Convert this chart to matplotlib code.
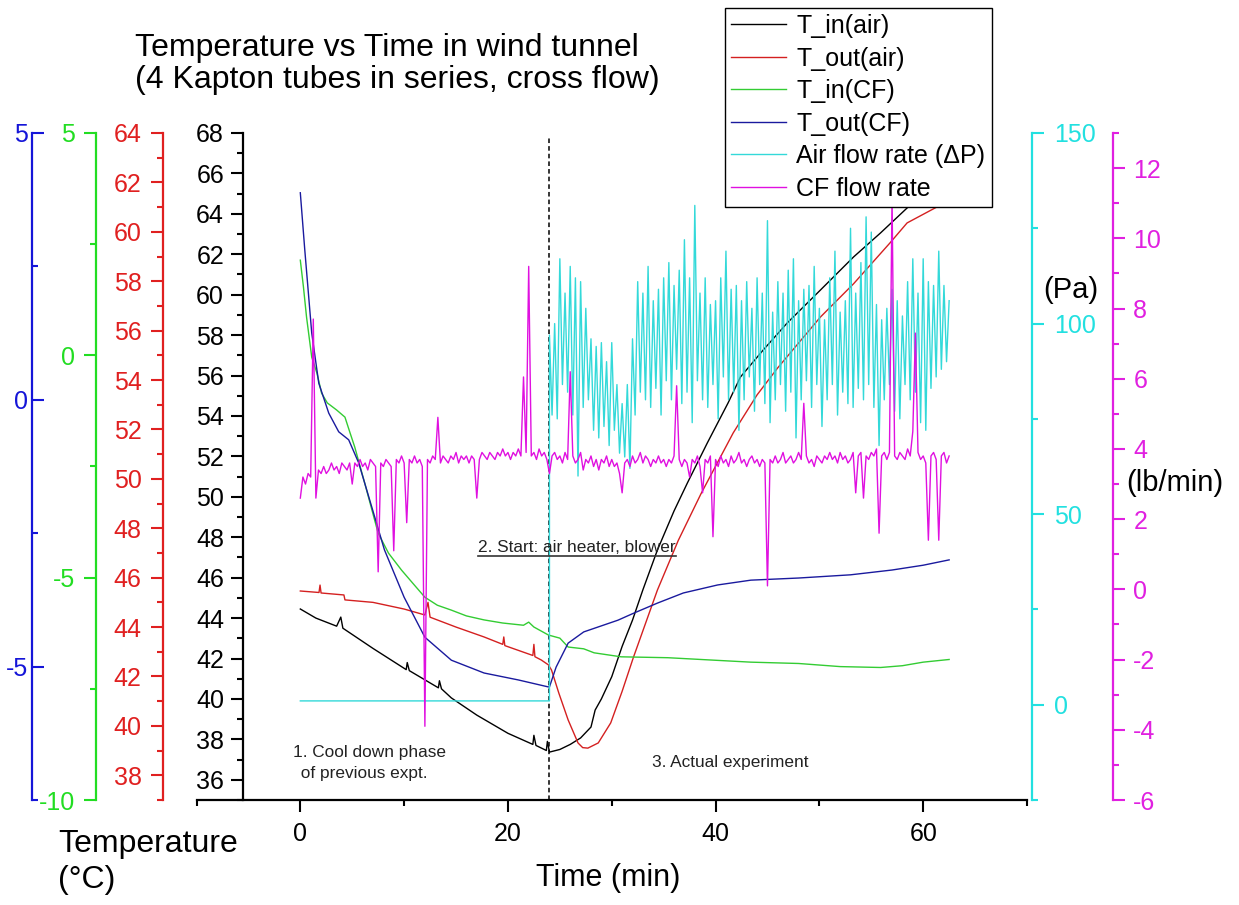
import numpy as np
import matplotlib
matplotlib.use("Agg")
import matplotlib.pyplot as plt
from matplotlib.lines import Line2D
from matplotlib.ticker import MultipleLocator

plt.rcParams['font.family'] = ['Liberation Sans', 'DejaVu Sans']
plt.rcParams['axes.unicode_minus'] = False

# ---------------- data (time in minutes) ----------------
# Air inlet temperature (deg C)
t_air_in = [0, 1.5, 3.5, 3.9, 4.1, 7, 10.2, 10.3, 10.5, 13.3, 13.4, 13.6, 14.55,
            17, 20, 22.4, 22.5, 22.7, 23.7, 23.8, 24, 25, 26, 27, 28, 28.4, 29,
            30, 31, 32, 33, 34.4, 36, 37.3, 39.2, 41.2, 42.4, 44.6, 46.9, 50.1,
            53.3, 55.9, 58.45, 60.5, 62.5]
T_air_in = [44.45, 44.0, 43.6, 44.05, 43.5, 42.5, 41.45, 41.8, 41.4, 40.55, 40.9,
            40.5, 40.05, 39.2, 38.3, 37.75, 38.2, 37.7, 37.45, 37.9, 37.37, 37.5,
            37.75, 38.07, 38.61, 39.45, 40.0, 41.1, 42.6, 43.9, 45.4, 47.37, 49.3,
            50.7, 52.66, 54.64, 55.93, 57.27, 58.6, 60.23, 61.87, 63.06, 64.29,
            65.3, 66.2]

# Air outlet temperature (deg C)
t_air_out = [0, 1.8, 1.9, 2.0, 4.2, 4.3, 7, 10, 12, 12.3, 12.5, 15, 17.7, 19.5,
             19.6, 19.7, 22.4, 22.5, 22.6, 23.2, 23.9, 24.2, 24.9, 25.8, 26.75,
             27.2, 27.7, 28.7, 29.9, 31, 32.1, 34.4, 36.4, 38.6, 41.7, 44, 46,
             50.1, 53.3, 56.8, 58.45, 61.3, 62.5]
T_air_out = [45.46, 45.4, 45.7, 45.38, 45.3, 45.1, 45.0, 44.73, 44.49, 45.0, 44.4,
             44.0, 43.6, 43.3, 43.6, 43.25, 42.85, 43.3, 42.8, 42.67, 42.47, 42.26,
             41.33, 40.24, 39.31, 39.12, 39.1, 39.31, 40.12, 41.4, 42.79, 45.5,
             47.5, 49.4, 51.86, 53.4, 54.5, 56.55, 57.9, 59.55, 60.36, 61.0, 61.5]

# Coolant (CF) inlet temperature (deg C)
t_cf_in = [0, 0.3, 0.6, 1.1, 1.6, 2.05, 2.6, 3.5, 4.3, 4.8, 5.24, 6.2, 7.5, 8.5,
           9.75, 11, 12, 13.2, 14.55, 16, 17.7, 19.5, 21.5, 22.0, 22.5, 23.9, 25,
           25.8, 27.3, 28.3, 30.9, 35.4, 43.4, 48, 52, 55.9, 58, 60, 62.5]
T_cf_in = [2.14, 1.54, 0.86, -0.04, -0.4, -0.85, -1.07, -1.23, -1.39, -1.75, -2.06,
           -2.87, -4.0, -4.45, -4.83, -5.17, -5.44, -5.62, -5.73, -5.86, -5.95,
           -6.02, -6.07, -6.0, -6.11, -6.29, -6.36, -6.56, -6.6, -6.69, -6.78,
           -6.8, -6.9, -6.93, -7.0, -7.02, -6.98, -6.9, -6.84]

# Coolant (CF) outlet temperature (deg C)
t_cf_out = [0, 0.43, 1.1, 1.78, 2.74, 3.7, 4.66, 5.62, 6.2, 8.1, 10, 12, 14.55,
            17.7, 21, 23.87, 24.0, 24.64, 25.8, 27.3, 30.6, 32.1, 34.4, 36.9, 40.2,
            43.4, 48, 53, 57, 60, 62.5]
T_cf_out = [3.88, 2.81, 1.25, 0.31, -0.25, -0.6, -0.75, -1.18, -1.56, -2.81, -3.7,
            -4.45, -4.88, -5.12, -5.25, -5.38, -5.38, -5.01, -4.56, -4.35, -4.13,
            -4.0, -3.81, -3.62, -3.47, -3.38, -3.34, -3.28, -3.19, -3.1, -3.0]

# Air flow rate, pressure drop (Pa): blower off until 24 min, then sampled every 0.25 min
air_dp_off_t = [0, 24]
air_dp_off = [1, 1]
air_dp_on_t0 = 24.0
air_dp_step = 0.25
air_dp_on = [
    97, 76, 100, 75, 117, 84, 108, 82, 115, 76, 112, 60, 111, 78, 104, 80, 96, 72, 94, 70,
    95, 73, 90, 68, 95, 72, 84, 66, 79, 65, 84, 62, 96, 76, 111, 82, 108, 80, 115, 78,
    106, 83, 109, 76, 112, 85, 116, 80, 110, 88, 114, 79, 122, 82, 112, 74, 131, 85, 108, 80,
    112, 78, 105, 84, 106, 75, 112, 86, 119, 80, 109, 82, 110, 72, 106, 80, 111, 86, 104, 77,
    112, 84, 108, 79, 127, 74, 103, 80, 111, 84, 108, 77, 114, 82, 117, 70, 106, 80, 109, 85,
    110, 78, 115, 84, 104, 73, 101, 80, 112, 84, 119, 76, 103, 82, 106, 79, 125, 78, 108, 83,
    116, 80, 128, 84, 124, 78, 105, 68, 101, 80, 104, 84, 109, 77, 106, 75, 102, 84, 111, 80,
    117, 82, 108, 74, 117, 72, 111, 83, 110, 86, 119, 88, 110, 90, 106]

# CF mass flow rate (lb/min), sampled every 0.25 min from 0
cf_flow_step = 0.25
cf_flow = [
    2.6, 3.2, 3.0, 3.3, 3.2, 7.7, 2.6, 3.4, 3.3, 3.5, 3.3, 3.4, 3.6, 3.4, 3.5, 3.3, 3.6, 3.5, 3.4, 3.6,
    3.0, 3.6, 3.5, 3.7, 3.5, 3.6, 3.4, 3.7, 3.6, 3.5, 0.5, 3.6, 3.5, 3.7, 3.6, 3.5, 1.1, 3.7, 3.6, 3.8,
    3.6, 1.9, 3.7, 3.6, 3.8, 3.6, 3.7, 3.5, -3.9, 3.7, 3.6, 3.8, 3.7, 4.9, 3.6, 3.8, 3.7, 3.6, 3.8, 3.7,
    3.9, 3.6, 3.8, 3.7, 3.8, 3.6, 3.8, 3.7, 2.6, 3.7, 3.9, 3.8, 3.7, 3.9, 3.8, 3.7, 3.9, 3.8, 4.0, 3.8,
    3.9, 3.7, 3.9, 3.8, 4.0, 3.8, 6.05, 3.9, 9.2, 3.8, 3.9, 3.7, 4.0, 3.8, 3.9, 3.7, 3.3, 3.8, 3.9, 3.7,
    3.8, 3.6, 3.9, 3.7, 6.2, 3.8, 3.6, 3.7, 3.9, 3.4, 3.7, 3.6, 3.8, 3.5, 3.7, 3.4, 3.7, 3.6, 3.8, 3.5,
    3.7, 3.5, 3.6, 3.3, 2.75, 3.6, 3.7, 3.5, 3.8, 3.6, 3.7, 3.9, 3.6, 3.8, 3.7, 3.5, 3.7, 3.6, 3.8, 3.6,
    3.7, 3.5, 3.7, 3.6, 3.8, 5.8, 3.7, 3.5, 3.7, 3.6, 3.2, 3.7, 3.6, 3.8, 3.5, 2.75, 3.7, 3.6, 3.8, 1.5,
    3.7, 3.5, 3.8, 3.6, 3.7, 3.5, 3.8, 3.6, 3.7, 3.9, 3.6, 3.7, 3.5, 3.7, 3.8, 3.6, 3.7, 3.5, 3.7, 3.6,
    0.1, 3.7, 3.6, 3.8, 3.6, 3.7, 3.9, 3.6, 3.7, 3.8, 3.6, 3.7, 3.9, 3.7, 5.3, 3.8, 3.6, 3.7, 3.5, 3.8,
    3.7, 3.6, 3.8, 3.7, 3.9, 3.7, 3.8, 3.6, 3.9, 3.7, 3.8, 3.6, 3.7, 3.9, 2.75, 3.8, 3.9, 2.6, 3.8, 3.7,
    3.9, 3.8, 4.0, 1.6, 3.8, 3.9, 3.7, 3.9, 11.2, 3.8, 3.7, 3.9, 3.8, 3.7, 4.0, 3.8, 4.5, 7.3, 3.9, 3.7,
    3.8, 3.6, 1.4, 3.8, 3.9, 3.7, 1.4, 3.8, 3.9, 3.6, 3.8]

start_time = 24  # air heater and blower switched on

labels = ["T_in(air)", "T_out(air)", "T_in(CF)", "T_out(CF)",
          "Air flow rate (\u0394P)", "CF flow rate"]

# ---------------- figure ----------------
W, H = 1239, 905
fig = plt.figure(figsize=(W / 100, H / 100), dpi=100)


def fx(px):
    return px / W


def fy(py):
    return 1 - py / H


L, R, B, T = 196.5, 1027, 800, 133
ax = fig.add_axes([fx(L), fy(B), (R - L) / W, (B - T) / H])
ax.patch.set_visible(False)

TICK_FS = 18
SPINE_LW = 1.6


def style_y(a, color, lim, major, minor, pos, side, direction, pad):
    a.set_ylim(*lim)
    for s in a.spines.values():
        s.set_visible(False)
    sp = a.spines[side]
    sp.set_visible(True)
    sp.set_position(('axes', pos))
    sp.set_color(color)
    sp.set_linewidth(SPINE_LW)
    if side == 'left':
        a.yaxis.tick_left()
    else:
        a.yaxis.tick_right()
    a.yaxis.set_major_locator(MultipleLocator(major))
    a.yaxis.set_minor_locator(MultipleLocator(minor))
    a.tick_params(axis='y', which='both', colors=color, labelcolor=color,
                  direction=direction, width=1.5, labelsize=TICK_FS, pad=pad)
    a.tick_params(axis='y', which='major', length=8.6)
    a.tick_params(axis='y', which='minor', length=4.3)
    a.patch.set_visible(False)


# main (black) axis: air inlet temperature
ax.set_xlim(-10, 70)
style_y(ax, 'black', (35, 68), 2, 1, 0.056, 'left', 'out', 5)
ax.spines['bottom'].set_visible(True)
ax.spines['bottom'].set_linewidth(SPINE_LW)
ax.xaxis.set_major_locator(MultipleLocator(20))
ax.xaxis.set_minor_locator(MultipleLocator(10))
ax.tick_params(axis='x', which='both', direction='out', width=1.5,
               labelsize=TICK_FS, pad=7)
ax.tick_params(axis='x', which='major', length=8.6)
ax.tick_params(axis='x', which='minor', length=4.3)

ax_red = ax.twinx()
style_y(ax_red, '#e02020', (37, 64), 2, 1, -0.040, 'left', 'out', 7)
ax_grn = ax.twinx()
style_y(ax_grn, '#22dd22', (-10, 5), 5, 2.5, -0.121, 'left', 'out', 6.5)
ax_blu = ax.twinx()
style_y(ax_blu, '#1515d8', (-7.5, 5), 5, 2.5, -0.1984, 'left', 'in', 2.5)
ax_cyn = ax.twinx()
style_y(ax_cyn, '#22e0e0', (-25, 150), 50, 25, 1.006, 'right', 'out', 7)
ax_mag = ax.twinx()
style_y(ax_mag, '#e020e0', (-6, 13), 2, 1, 1.1036, 'right', 'out', 6)

LW = 1.0
h1, = ax.plot(t_air_in, T_air_in, color='black', lw=LW)
ax.axvline(start_time, ymin=0, ymax=0.994, color='black', lw=1.1,
           ls=(0, (3, 2)))
h2, = ax_red.plot(t_air_out, T_air_out, color='#d42020', lw=LW)
h3, = ax_grn.plot(t_cf_in, T_cf_in, color='#33cc33', lw=LW)
h4, = ax_blu.plot(t_cf_out, T_cf_out, color='#1a1a9e', lw=LW)

dp_t = air_dp_off_t + list(air_dp_on_t0 + air_dp_step * np.arange(len(air_dp_on)))
dp_v = air_dp_off + air_dp_on
h5, = ax_cyn.plot(dp_t, dp_v, color='#33d9d9', lw=LW)

cf_t = cf_flow_step * np.arange(len(cf_flow))
h6, = ax_mag.plot(cf_t, cf_flow, color='#e010e0', lw=LW)

# legend on top of everything
leg = fig.legend([h1, h2, h3, h4, h5, h6], labels, loc='upper left',
                 bbox_to_anchor=(fx(725), fy(8)), borderaxespad=0,
                 frameon=True, fancybox=False, framealpha=1, edgecolor='black',
                 fontsize=18, handlelength=2.2, handletextpad=0.4,
                 labelspacing=0.34, borderpad=0.25)
leg.get_frame().set_linewidth(1.0)

# titles and axis captions
fig.text(fx(135), fy(64), "Temperature vs Time in wind tunnel\n(4 Kapton tubes in series, cross flow)",
         ha='left', va='center', multialignment='left', fontsize=23, linespacing=1.1)
fig.text(fx(58), fy(844), "Temperature", ha='left', va='center', fontsize=23)
fig.text(fx(58), fy(880), "(\u00b0C)", ha='left', va='center', fontsize=23)
fig.text(fx(608), fy(878), "Time (min)", ha='center', va='center', fontsize=22)
fig.text(fx(1071), fy(290), "(Pa)", ha='center', va='center', fontsize=21)
fig.text(fx(1175), fy(483), "(lb/min)", ha='center', va='center', fontsize=21)

# phase annotations
ANN = dict(ha='left', va='center', fontsize=12.4, color='#222222')
fig.text(fx(293), fy(752), "1. Cool down phase", **ANN)
fig.text(fx(296), fy(773), " of previous expt.", **ANN)
fig.text(fx(478), fy(547), "2. Start: air heater, blower", **ANN)
fig.add_artist(Line2D([fx(478), fx(676)], [fy(556), fy(556)], color='#333333', lw=1.2))
fig.text(fx(652), fy(762), "3. Actual experiment", **ANN)

fig.savefig("out.png", dpi=100)
